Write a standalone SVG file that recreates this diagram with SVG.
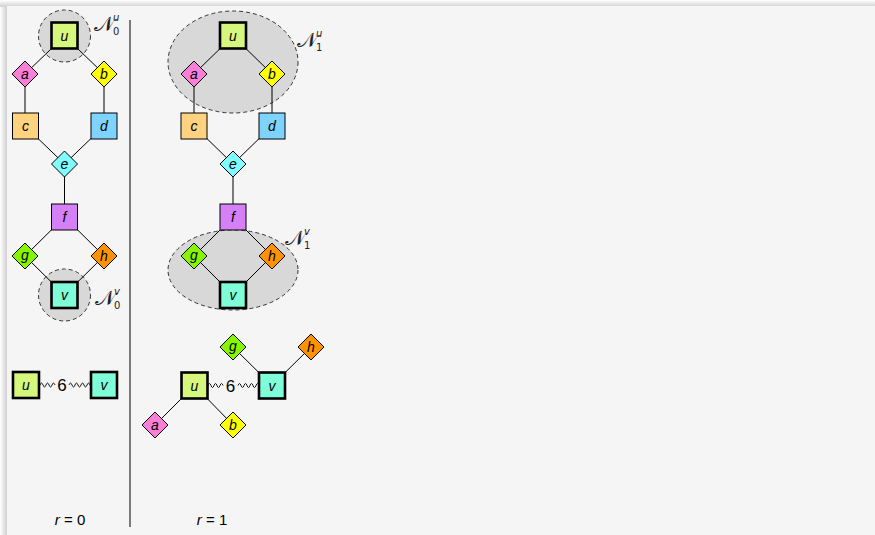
<svg xmlns="http://www.w3.org/2000/svg" width="875" height="535" viewBox="0 0 875 535">
<defs>
<linearGradient id="shl" x1="0" x2="1" y1="0" y2="0"><stop offset="0" stop-color="#ffffff"/><stop offset="1" stop-color="#c8c8c8"/></linearGradient>
<linearGradient id="sht" x1="0" x2="0" y1="0" y2="1"><stop offset="0" stop-color="#ffffff"/><stop offset="1" stop-color="#d0d0d0"/></linearGradient>
</defs>
<style>
.e{stroke:#000;stroke-width:1;fill:none}
.w{stroke:#000;stroke-width:0.9;fill:none}
.n{stroke:#000;stroke-width:1}
.k{stroke:#000;stroke-width:2.6}
.t{font-family:"Liberation Sans",Arial,sans-serif;font-style:italic;font-size:14px;text-anchor:middle;fill:#000}
.hood{fill:#d8d8d8;stroke:#333;stroke-width:1;stroke-dasharray:4 3}
.N{font-family:"DejaVu Serif","Liberation Serif",serif;font-size:21px;fill:#222}
.s{font-family:"DejaVu Sans","Liberation Sans",sans-serif;font-size:10px;fill:#222}
.r{font-family:"Liberation Sans",Arial,sans-serif;font-size:15px;text-anchor:middle;fill:#000}
.six{font-family:"Liberation Sans",Arial,sans-serif;font-size:17px;text-anchor:middle;fill:#000}
</style>
<rect x="0" y="0" width="875" height="535" fill="#ffffff"/>
<rect x="0" y="0" width="8" height="535" fill="url(#shl)"/>
<rect x="0" y="0" width="875" height="7" fill="url(#sht)"/>
<rect x="7" y="6" width="868" height="529" fill="#f5f5f5"/>
<line x1="130" y1="20" x2="130" y2="527" stroke="#000" stroke-width="1"/>

<g id="hoods">
<circle cx="64.5" cy="36" r="26" class="hood"/>
<circle cx="64.5" cy="295" r="26" class="hood"/>
<ellipse cx="233" cy="62" rx="65" ry="51" class="hood"/>
<ellipse cx="233" cy="270" rx="65" ry="40" class="hood"/>
</g>

<g id="connectors">
<path class="e" d="M64.5,36 L25,74 L25,126 L64.5,164 L104,126 L104,74 Z"/>
<path class="e" d="M64.5,164 L64.5,217 L25,256 L64.5,295 L104,256 L64.5,217"/>
<path class="e" d="M233,36 L194,74 L194,126 L233,164 L272,126 L272,74 Z"/>
<path class="e" d="M233,164 L233,217 L194,256 L233,295 L272,256 L233,217"/>
<path class="e" d="M155,425 L194.5,385.5 L233,425"/>
<path class="e" d="M233,347 L272,385.5 L311,347"/>
<path class="w" d="M40,385 q1.5,-4 3,0 t3,0 t3,0 t3,0 t3,0"/>
<path class="w" d="M69,385 q1.5,-4 3,0 t3,0 t3,0 t3,0 t3,0 t3,0 t3,0"/>
<path class="w" d="M208,385.5 q1.5,-4 3,0 t3,0 t3,0 t3,0 t3,0"/>
<path class="w" d="M238,385.5 q1.5,-4 3,0 t3,0 t3,0 t3,0 t3,0 t3,0 t3,0"/>
</g>

<g id="u0"><rect x="51.5" y="22.5" width="26" height="26" fill="#d6f77e" class="k"/><text x="64.5" y="40.5" class="t">u</text></g>
<g id="a0"><polygon points="25,61 38,74 25,87 12,74" fill="#fb7fd9" class="n"/><text x="25" y="79" class="t">a</text></g>
<g id="b0"><polygon points="104,61 117,74 104,87 91,74" fill="#ffff00" class="n"/><text x="104" y="79" class="t">b</text></g>
<g id="c0"><rect x="12.5" y="113" width="26" height="26" fill="#ffd27f" class="n"/><text x="25.5" y="131" class="t">c</text></g>
<g id="d0"><rect x="91" y="113" width="26" height="26" fill="#7fd3ff" class="n"/><text x="104" y="131" class="t">d</text></g>
<g id="e0"><polygon points="64.5,151 77.5,164 64.5,177 51.5,164" fill="#7ffcff" class="n"/><text x="64.5" y="169" class="t">e</text></g>
<g id="f0"><rect x="51.5" y="204" width="26" height="26" fill="#d580f7" class="n"/><text x="64.5" y="222" class="t">f</text></g>
<g id="g0"><polygon points="25,243 38,256 25,269 12,256" fill="#86f500" class="n"/><text x="25" y="260" class="t">g</text></g>
<g id="h0"><polygon points="104,243 117,256 104,269 91,256" fill="#ff9200" class="n"/><text x="104" y="261" class="t">h</text></g>
<g id="v0"><rect x="51.5" y="282" width="26" height="26" fill="#7ffcd8" class="k"/><text x="64.5" y="300" class="t">v</text></g>
<g id="Nu0"><text x="94" y="31" class="N">𝒩</text><text x="113" y="21" class="s" font-style="italic">u</text><text x="113" y="35" class="s">0</text></g>
<g id="Nv0"><text x="95" y="305" class="N">𝒩</text><text x="114" y="295" class="s" font-style="italic">v</text><text x="114" y="309" class="s">0</text></g>

<g id="u0b"><rect x="13" y="372" width="26" height="26" fill="#d6f77e" class="k"/><text x="26" y="390" class="t">u</text></g>
<g id="v0b"><rect x="91" y="372" width="26" height="26" fill="#7ffcd8" class="k"/><text x="104" y="390" class="t">v</text></g>
<text x="62" y="391" class="six">6</text>
<text x="70" y="525" class="r"><tspan font-style="italic">r</tspan> = 0</text>

<g id="u1"><rect x="220" y="22.5" width="26" height="26" fill="#d6f77e" class="k"/><text x="233" y="40.5" class="t">u</text></g>
<g id="a1"><polygon points="194,61 207,74 194,87 181,74" fill="#fb7fd9" class="n"/><text x="194" y="79" class="t">a</text></g>
<g id="b1"><polygon points="272,61 285,74 272,87 259,74" fill="#ffff00" class="n"/><text x="272" y="79" class="t">b</text></g>
<g id="c1"><rect x="181" y="113" width="26" height="26" fill="#ffd27f" class="n"/><text x="194" y="131" class="t">c</text></g>
<g id="d1"><rect x="259" y="113" width="26" height="26" fill="#7fd3ff" class="n"/><text x="272" y="131" class="t">d</text></g>
<g id="e1"><polygon points="233,151 246,164 233,177 220,164" fill="#7ffcff" class="n"/><text x="233" y="169" class="t">e</text></g>
<g id="f1"><rect x="220" y="204" width="26" height="26" fill="#d580f7" class="n"/><text x="233" y="222" class="t">f</text></g>
<g id="g1"><polygon points="194,243 207,256 194,269 181,256" fill="#86f500" class="n"/><text x="194" y="260" class="t">g</text></g>
<g id="h1"><polygon points="272,243 285,256 272,269 259,256" fill="#ff9200" class="n"/><text x="272" y="261" class="t">h</text></g>
<g id="v1"><rect x="220" y="282" width="26" height="26" fill="#7ffcd8" class="k"/><text x="233" y="300" class="t">v</text></g>
<g id="Nu1"><text x="297" y="47" class="N">𝒩</text><text x="316" y="37" class="s" font-style="italic">u</text><text x="316" y="51" class="s">1</text></g>
<g id="Nv1"><text x="285" y="245" class="N">𝒩</text><text x="304" y="235" class="s" font-style="italic">v</text><text x="304" y="249" class="s">1</text></g>

<g id="u1b"><rect x="181.5" y="372.5" width="26" height="26" fill="#d6f77e" class="k"/><text x="194.5" y="390.5" class="t">u</text></g>
<g id="v1b"><rect x="259" y="372.5" width="26" height="26" fill="#7ffcd8" class="k"/><text x="272" y="390.5" class="t">v</text></g>
<g id="g1b"><polygon points="233,334 246,347 233,360 220,347" fill="#86f500" class="n"/><text x="233" y="351" class="t">g</text></g>
<g id="h1b"><polygon points="311,334 324,347 311,360 298,347" fill="#ff9200" class="n"/><text x="311" y="352" class="t">h</text></g>
<g id="a1b"><polygon points="155,412 168,425 155,438 142,425" fill="#fb7fd9" class="n"/><text x="155" y="430" class="t">a</text></g>
<g id="b1b"><polygon points="233,412 246,425 233,438 220,425" fill="#ffff00" class="n"/><text x="233" y="430" class="t">b</text></g>
<text x="230.5" y="391.5" class="six">6</text>
<text x="212" y="525" class="r"><tspan font-style="italic">r</tspan> = 1</text>
</svg>
